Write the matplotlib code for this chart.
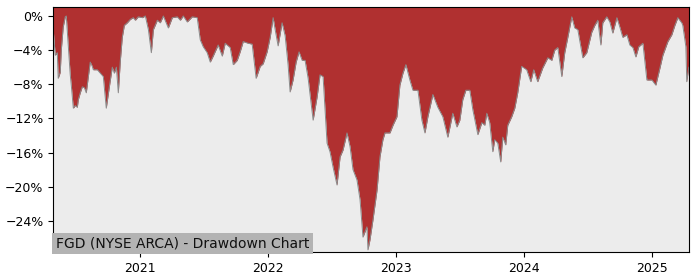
import matplotlib
matplotlib.use('Agg')
import matplotlib.pyplot as plt
import matplotlib.dates as mdates
from matplotlib.ticker import FuncFormatter, MultipleLocator
import pandas as pd

# drawdown readings, dates as decimal years
years = [
    2020.320, 2020.336, 2020.352, 2020.359, 2020.375, 2020.383, 2020.398, 2020.414,
    2020.422, 2020.438, 2020.453, 2020.461, 2020.477, 2020.492, 2020.508, 2020.516,
    2020.531, 2020.547, 2020.563, 2020.578, 2020.594, 2020.609, 2020.625, 2020.633,
    2020.664, 2020.688, 2020.711, 2020.734, 2020.758, 2020.781, 2020.797, 2020.813,
    2020.828, 2020.844, 2020.859, 2020.875, 2020.898, 2020.922, 2020.945, 2020.961,
    2020.984, 2021.016, 2021.039, 2021.063, 2021.086, 2021.102, 2021.133, 2021.156,
    2021.180, 2021.219, 2021.250, 2021.289, 2021.313, 2021.336, 2021.367, 2021.406,
    2021.445, 2021.469, 2021.492, 2021.523, 2021.547, 2021.570, 2021.609, 2021.641,
    2021.664, 2021.703, 2021.727, 2021.758, 2021.781, 2021.805, 2021.844, 2021.875,
    2021.906, 2021.938, 2021.961, 2021.992, 2022.016, 2022.039, 2022.055, 2022.078,
    2022.109, 2022.133, 2022.156, 2022.172, 2022.195, 2022.219, 2022.242, 2022.266,
    2022.289, 2022.313, 2022.352, 2022.383, 2022.406, 2022.430, 2022.461, 2022.484,
    2022.508, 2022.539, 2022.563, 2022.586, 2022.617, 2022.641, 2022.664, 2022.695,
    2022.719, 2022.742, 2022.773, 2022.781, 2022.797, 2022.820, 2022.852, 2022.875,
    2022.898, 2022.914, 2022.953, 2022.977, 2023.008, 2023.031, 2023.055, 2023.078,
    2023.109, 2023.133, 2023.172, 2023.203, 2023.227, 2023.250, 2023.289, 2023.328,
    2023.367, 2023.406, 2023.445, 2023.477, 2023.500, 2023.523, 2023.547, 2023.578,
    2023.602, 2023.641, 2023.672, 2023.695, 2023.711, 2023.734, 2023.758, 2023.773,
    2023.797, 2023.820, 2023.836, 2023.859, 2023.875, 2023.906, 2023.930, 2023.953,
    2023.984, 2024.023, 2024.055, 2024.078, 2024.109, 2024.148, 2024.188, 2024.219,
    2024.242, 2024.266, 2024.297, 2024.320, 2024.344, 2024.375, 2024.398, 2024.422,
    2024.461, 2024.492, 2024.531, 2024.555, 2024.578, 2024.602, 2024.617, 2024.648,
    2024.672, 2024.695, 2024.727, 2024.750, 2024.773, 2024.805, 2024.828, 2024.852,
    2024.875, 2024.898, 2024.930, 2024.961, 2025.000, 2025.031, 2025.063, 2025.086,
    2025.125, 2025.156, 2025.180, 2025.203, 2025.234, 2025.242, 2025.266, 2025.273,
    2025.289,
]
drawdown = [
    -1.6, -4.6, -4.3, -7.3, -6.6, -4.0, -1.3, -0.1,
    0.0, -3.6, -6.9, -8.1, -10.8, -10.5, -10.7, -9.8,
    -9.0, -8.3, -8.4, -9.0, -7.1, -5.4, -5.9, -6.3,
    -6.3, -6.7, -7.1, -10.8, -8.3, -6.0, -6.7, -6.0,
    -9.0, -5.2, -2.5, -1.1, -0.8, -0.4, -0.2, -0.5,
    -0.1, -0.2, 0.0, -1.6, -4.3, -1.6, -0.5, -0.8,
    0.0, -1.4, -0.2, -0.1, -0.5, 0.0, -0.7, -0.1,
    -0.2, -2.8, -3.6, -4.3, -5.4, -4.7, -3.4, -4.7,
    -3.2, -3.7, -5.7, -5.2, -4.2, -3.0, -3.2, -3.3,
    -7.3, -5.9, -5.6, -4.2, -2.5, -0.2, -1.6, -3.5,
    -0.8, -2.3, -5.7, -8.9, -7.5, -5.4, -4.2, -5.2,
    -5.2, -7.3, -12.2, -9.5, -6.9, -7.1, -14.9, -15.9,
    -17.7, -19.8, -16.5, -15.7, -13.7, -15.3, -18.0, -19.2,
    -21.5, -25.9, -24.7, -27.4, -26.2, -23.9, -20.4, -16.5,
    -14.5, -13.7, -13.7, -12.8, -11.8, -8.1, -6.7, -5.7,
    -7.5, -8.7, -8.7, -12.2, -13.7, -11.8, -9.2, -10.7,
    -11.8, -14.2, -11.4, -13.0, -12.2, -9.8, -8.7, -8.7,
    -11.0, -13.9, -12.5, -12.8, -11.4, -12.5, -15.9, -14.5,
    -14.9, -17.1, -14.2, -15.1, -12.8, -11.8, -10.8, -9.0,
    -5.9, -6.3, -7.7, -6.3, -7.7, -6.1, -4.9, -5.2,
    -4.0, -3.7, -7.1, -4.3, -2.5, -0.1, -1.4, -1.6,
    -4.9, -4.3, -1.9, -1.1, -0.5, -3.4, -0.8, -0.1,
    -0.7, -2.0, -0.2, -1.3, -2.5, -2.2, -3.4, -3.7,
    -4.8, -3.6, -3.2, -7.5, -7.5, -8.1, -6.1, -4.6,
    -3.0, -2.2, -1.1, -0.2, -0.8, -1.1, -3.6, -7.7,
    -6.0,
]

title = "FGD (NYSE ARCA) - Drawdown Chart"
y_top = 1.05
y_bottom = -27.65


def decimal_year_to_date(y):
    yr = int(y)
    start = pd.Timestamp(year=yr, month=1, day=1)
    end = pd.Timestamp(year=yr + 1, month=1, day=1)
    return start + (end - start) * (y - yr)


dates = [decimal_year_to_date(y) for y in years]

fig = plt.figure(figsize=(7, 2.8), dpi=100)
ax = fig.add_axes([0.076, 0.1, 0.908, 0.875])
ax.set_facecolor('#ececec')

# red area runs from the curve up to the top edge of the axes
ax.fill_between(dates, drawdown, y_top, color='#b03030', linewidth=0)
ax.plot(dates, drawdown, color='#8a8a8a', linewidth=0.7)

ax.set_xlim(dates[0], dates[-1])
ax.set_ylim(y_bottom, y_top)

ax.yaxis.set_major_locator(MultipleLocator(4))
ax.yaxis.set_major_formatter(FuncFormatter(lambda v, p: f"{v:.0f}%".replace('-', '\u2212')))
ax.xaxis.set_major_locator(mdates.YearLocator())
ax.xaxis.set_major_formatter(mdates.DateFormatter('%Y'))
ax.tick_params(labelsize=9)

ax.text(0.004, 0.008, title, transform=ax.transAxes, fontsize=10, color='#111111',
        ha='left', va='bottom',
        bbox=dict(facecolor='#b3b3b3', edgecolor='none', pad=2.5))

fig.savefig('out.png', dpi=100)
